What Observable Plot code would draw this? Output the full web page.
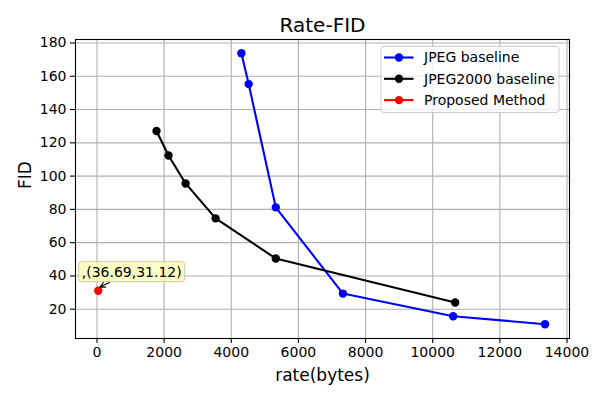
<!DOCTYPE html>
<html>
<head>
<meta charset="utf-8">
<script src="https://cdn.jsdelivr.net/npm/d3@7"></script>
<script src="https://cdn.jsdelivr.net/npm/@observablehq/plot@0.6"></script>
<style>
  html, body { margin: 0; padding: 0; background: #fff; }
  #chart { width: 600px; height: 400px; }
  svg { font-family: "DejaVu Sans", sans-serif; }
</style>
</head>
<body>
<div id="chart"></div>
<script>
// ---- data ----
const seriesNames = ["JPEG baseline", "JPEG2000 baseline", "Proposed Method"];
const seriesColors = ["#0000ff", "#000000", "#ff0000"];

const jpegRate = [4301, 4519, 5326, 7326, 10609, 13346];
const jpegFID  = [173.8, 155.3, 81.2, 29.4, 15.8, 11.0];

const j2kRate = [1773, 2131, 2639, 3534, 5326, 10669];
const j2kFID  = [127.1, 112.4, 95.6, 74.6, 50.5, 24.0];

const propRate = [36.69];
const propFID  = [31.12];
const annotationLabel = ",(36.69,31.12)";

const xTicks = [0, 2000, 4000, 6000, 8000, 10000, 12000, 14000];
const yTicks = [20, 40, 60, 80, 100, 120, 140, 160, 180];

const toRows = (xs, ys, name) => xs.map((x, i) => ({rate: x, fid: ys[i], series: name}));
const jpeg = toRows(jpegRate, jpegFID, seriesNames[0]);
const j2k = toRows(j2kRate, j2kFID, seriesNames[1]);
const prop = toRows(propRate, propFID, seriesNames[2]);

const font = "DejaVu Sans, sans-serif";

// arrow mark drawn through the scales
function annotationArrow(index, scales) {
  const g = d3.create("svg:g");
  prop.forEach(d => {
    const px = scales.x(d.rate), py = scales.y(d.fid);
    const x1 = px + 12, y1 = py - 8, x2 = px + 2.2, y2 = py - 3;
    const ang = Math.atan2(y2 - y1, x2 - x1);
    const L = 6, a = 0.45;
    g.append("path")
      .attr("d", `M${x1},${y1}L${x2},${y2}` +
        `M${x2 - L*Math.cos(ang - a)},${y2 - L*Math.sin(ang - a)}L${x2},${y2}` +
        `L${x2 - L*Math.cos(ang + a)},${y2 - L*Math.sin(ang + a)}`)
      .attr("fill", "none").attr("stroke", "black").attr("stroke-width", 1.1);
  });
  return g.node();
}

const chart = Plot.plot({
  width: 600,
  height: 400,
  marginLeft: 75,
  marginRight: 31,
  marginTop: 39,
  marginBottom: 62,
  style: {fontFamily: font, fontSize: "14px", color: "black", background: "white"},
  x: {domain: [-640, 14075]},
  y: {domain: [2.4, 182.1]},
  marks: [
    Plot.gridX(xTicks, {stroke: "#b0b0b0", strokeOpacity: 1, strokeWidth: 1.1}),
    Plot.gridY(yTicks, {stroke: "#b0b0b0", strokeOpacity: 1, strokeWidth: 1.1}),
    Plot.axisX({ticks: xTicks, tickFormat: d => String(d), tickSize: 5, tickPadding: 4, fontSize: 14, label: null, stroke: "black", strokeWidth: 1.1}),
    Plot.axisY({ticks: yTicks, tickFormat: d => String(d), tickSize: 5, tickPadding: 4, fontSize: 14, label: null, stroke: "black", strokeWidth: 1.1}),
    Plot.line(jpeg, {x: "rate", y: "fid", stroke: seriesColors[0], strokeWidth: 2.1}),
    Plot.dot(jpeg, {x: "rate", y: "fid", r: 4.2, fill: seriesColors[0], stroke: null}),
    Plot.line(j2k, {x: "rate", y: "fid", stroke: seriesColors[1], strokeWidth: 2.1}),
    Plot.dot(j2k, {x: "rate", y: "fid", r: 4.2, fill: seriesColors[1], stroke: null}),
    Plot.dot(prop, {x: "rate", y: "fid", r: 4.2, fill: seriesColors[2], stroke: null}),
    Plot.text(prop, {x: "rate", y: "fid", text: () => annotationLabel, textAnchor: "start", dx: -16.5, dy: -18.5, fontSize: 14, fill: "black"}),
    annotationArrow,
    Plot.frame({stroke: "black", strokeWidth: 1.1}),
    Plot.text(["Rate-FID"], {frameAnchor: "top", dy: -22, fontSize: 20, fill: "black"}),
    Plot.text(["rate(bytes)"], {frameAnchor: "bottom", dy: 42, fontSize: 17, fill: "black"}),
    Plot.text(["FID"], {frameAnchor: "left", dx: -50, rotate: -90, fontSize: 17, fill: "black"})
  ]
});

document.getElementById("chart").append(chart);

// annotation box behind text
const svg = d3.select(chart);
svg.selectAll("text").filter(function() { return this.textContent === annotationLabel; }).each(function() {
  const bb = this.getBBox();
  const pad = 3;
  const r = document.createElementNS("http://www.w3.org/2000/svg", "rect");
  const sel = d3.select(r)
    .attr("x", bb.x - pad).attr("y", bb.y - pad + 1)
    .attr("width", bb.width + 2*pad).attr("height", bb.height + 2*pad - 2)
    .attr("rx", 3).attr("ry", 3)
    .attr("fill", "#ffffb3").attr("fill-opacity", 0.75)
    .attr("stroke", "#c8c8a0").attr("stroke-width", 1);
  const tr = this.getAttribute("transform");
  if (tr) sel.attr("transform", tr);
  if (this.getAttribute("x")) sel.attr("x", bb.x - pad);
  this.parentNode.insertBefore(r, this);
});

// legend
const lg = svg.append("g").attr("font-family", font).attr("font-size", 14).attr("text-anchor", "start");
lg.append("rect").attr("x", 381).attr("y", 46.5).attr("width", 178).attr("height", 66)
  .attr("rx", 3).attr("fill", "white").attr("fill-opacity", 0.8)
  .attr("stroke", "#cccccc").attr("stroke-width", 1);
seriesNames.forEach((name, i) => {
  const cy = 57.5 + i * 21.3;
  lg.append("line").attr("x1", 384).attr("x2", 413.5).attr("y1", cy).attr("y2", cy)
    .attr("stroke", seriesColors[i]).attr("stroke-width", 2.1);
  lg.append("circle").attr("cx", 399).attr("cy", cy).attr("r", 4.2).attr("fill", seriesColors[i]);
  lg.append("text").attr("x", 424).attr("y", cy).attr("dy", "0.35em").attr("fill", "black")
    .attr("text-anchor", "start").text(name);
});
</script>
</body>
</html>
